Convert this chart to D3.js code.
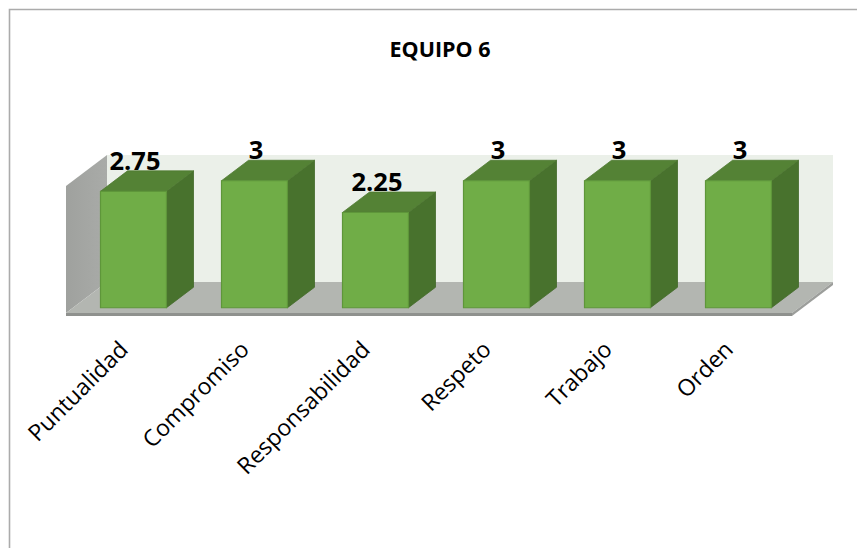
<!DOCTYPE html>
<html>
<head>
<meta charset="utf-8">
<script src="https://cdn.jsdelivr.net/npm/d3@7"></script>
<style>
  html, body { margin: 0; padding: 0; background: #ffffff; }
  svg { display: block; }
</style>
</head>
<body>
<svg id="chart" width="857" height="548"></svg>
<script>
const title = "EQUIPO 6";
const categories = ["Puntualidad", "Compromiso", "Responsabilidad", "Respeto", "Trabajo", "Orden"];
const values = [2.75, 3, 2.25, 3, 3, 3];
const valueLabels = ["2.75", "3", "2.25", "3", "3", "3"];
const yDomain = [0, 3];

const svg = d3.select("#chart");
const W = 857, H = 548;

// frame
svg.append("path")
  .attr("d", `M9.5,${H} L9.5,9.5 L${W},9.5`)
  .attr("fill", "none").attr("stroke", "#ababab").attr("stroke-width", 1.6);

// 3D geometry
const floorFrontY = 313;
const depthDX = 41, depthDY = -31;
const x = d3.scaleBand().domain(categories).range([66, 792]).paddingInner(0.455).paddingOuter(0.2275);
const y = d3.scaleLinear().domain(yDomain).range([floorFrontY, floorFrontY - 127]);
const P = (px, v, z) => [px + z * depthDX, y(v) + z * depthDY];
const poly = pts => "M" + pts.map(p => p.join(",")).join("L") + "Z";
const x0 = x.range()[0], x1 = x.range()[1];
const vmax = yDomain[1];

// back wall
svg.append("path")
  .attr("d", poly([P(x0, 0, 1), P(x1, 0, 1), P(x1, vmax, 1), P(x0, vmax, 1)]))
  .attr("fill", "#ebf0e9");

// side wall gradient
const defs = svg.append("defs");
const sg = defs.append("linearGradient").attr("id", "sideg").attr("x1", "0").attr("x2", "1").attr("y1", "0").attr("y2", "0");
sg.append("stop").attr("offset", "0").attr("stop-color", "#9fa19e");
sg.append("stop").attr("offset", "1").attr("stop-color", "#a9aba8");
svg.append("path")
  .attr("d", poly([P(x0, 0, 0), P(x0, vmax, 0), P(x0, vmax, 1), P(x0, 0, 1)]))
  .attr("fill", "url(#sideg)");

// floor
const th = 3;
svg.append("path")
  .attr("d", poly([P(x0, 0, 0), P(x1, 0, 0), P(x1, 0, 1), P(x0, 0, 1)]))
  .attr("fill", "#b3b6b1");
svg.append("path")
  .attr("d", poly([P(x0, 0, 0), P(x1, 0, 0), [P(x1, 0, 0)[0], P(x1, 0, 0)[1] + th], [P(x0, 0, 0)[0], P(x0, 0, 0)[1] + th]]))
  .attr("fill", "#8f918e");
svg.append("path")
  .attr("d", poly([P(x1, 0, 0), P(x1, 0, 1), [P(x1, 0, 1)[0], P(x1, 0, 1)[1] + th], [P(x1, 0, 0)[0], P(x1, 0, 0)[1] + th]]))
  .attr("fill", "#9c9e9b");

// bars
const zf = 0.17, zb = 0.83;
const bars = svg.append("g");
categories.forEach((c, i) => {
  const v = values[i];
  const bx0 = x(c), bx1 = x(c) + x.bandwidth();
  const g = bars.append("g");
  // side
  g.append("path")
    .attr("d", poly([P(bx1, 0, zf), P(bx1, 0, zb), P(bx1, v, zb), P(bx1, v, zf)]))
    .attr("fill", "#48722d").attr("stroke", "#436a2a").attr("stroke-width", 0.8);
  // top
  g.append("path")
    .attr("d", poly([P(bx0, v, zf), P(bx1, v, zf), P(bx1, v, zb), P(bx0, v, zb)]))
    .attr("fill", "#548235").attr("stroke", "#4f7a32").attr("stroke-width", 0.8);
  // front
  g.append("path")
    .attr("d", poly([P(bx0, 0, zf), P(bx1, 0, zf), P(bx1, v, zf), P(bx0, v, zf)]))
    .attr("fill", "#70ad47").attr("stroke", "#5e963a").attr("stroke-width", 1.2);
  // value label
  const fc = P((bx0 + bx1) / 2, v, zf);
  const bt = P(bx0, v, zb);
  svg.append("text")
    .attr("x", fc[0] + 1.5).attr("y", bt[1] - 1)
    .attr("text-anchor", "middle")
    .attr("font-family", "'Open Sans', sans-serif")
    .attr("font-weight", "bold").attr("font-size", 25.5)
    .attr("fill", "#000")
    .text(valueLabels[i]);
});

// category labels
categories.forEach((c) => {
  const cx = x(c) + x.bandwidth() / 2;
  svg.append("text")
    .attr("transform", `translate(${cx + 3},${351}) rotate(-45)`)
    .attr("text-anchor", "end")
    .attr("font-family", "'Open Sans', sans-serif")
    .attr("font-size", 23)
    .attr("fill", "#000")
    .text(c);
});

// title
svg.append("text")
  .attr("x", 440).attr("y", 57)
  .attr("text-anchor", "middle")
  .attr("font-family", "'Open Sans', sans-serif")
  .attr("font-weight", "bold").attr("font-size", 21.5)
  .attr("fill", "#000")
  .text(title);
</script>
</body>
</html>
